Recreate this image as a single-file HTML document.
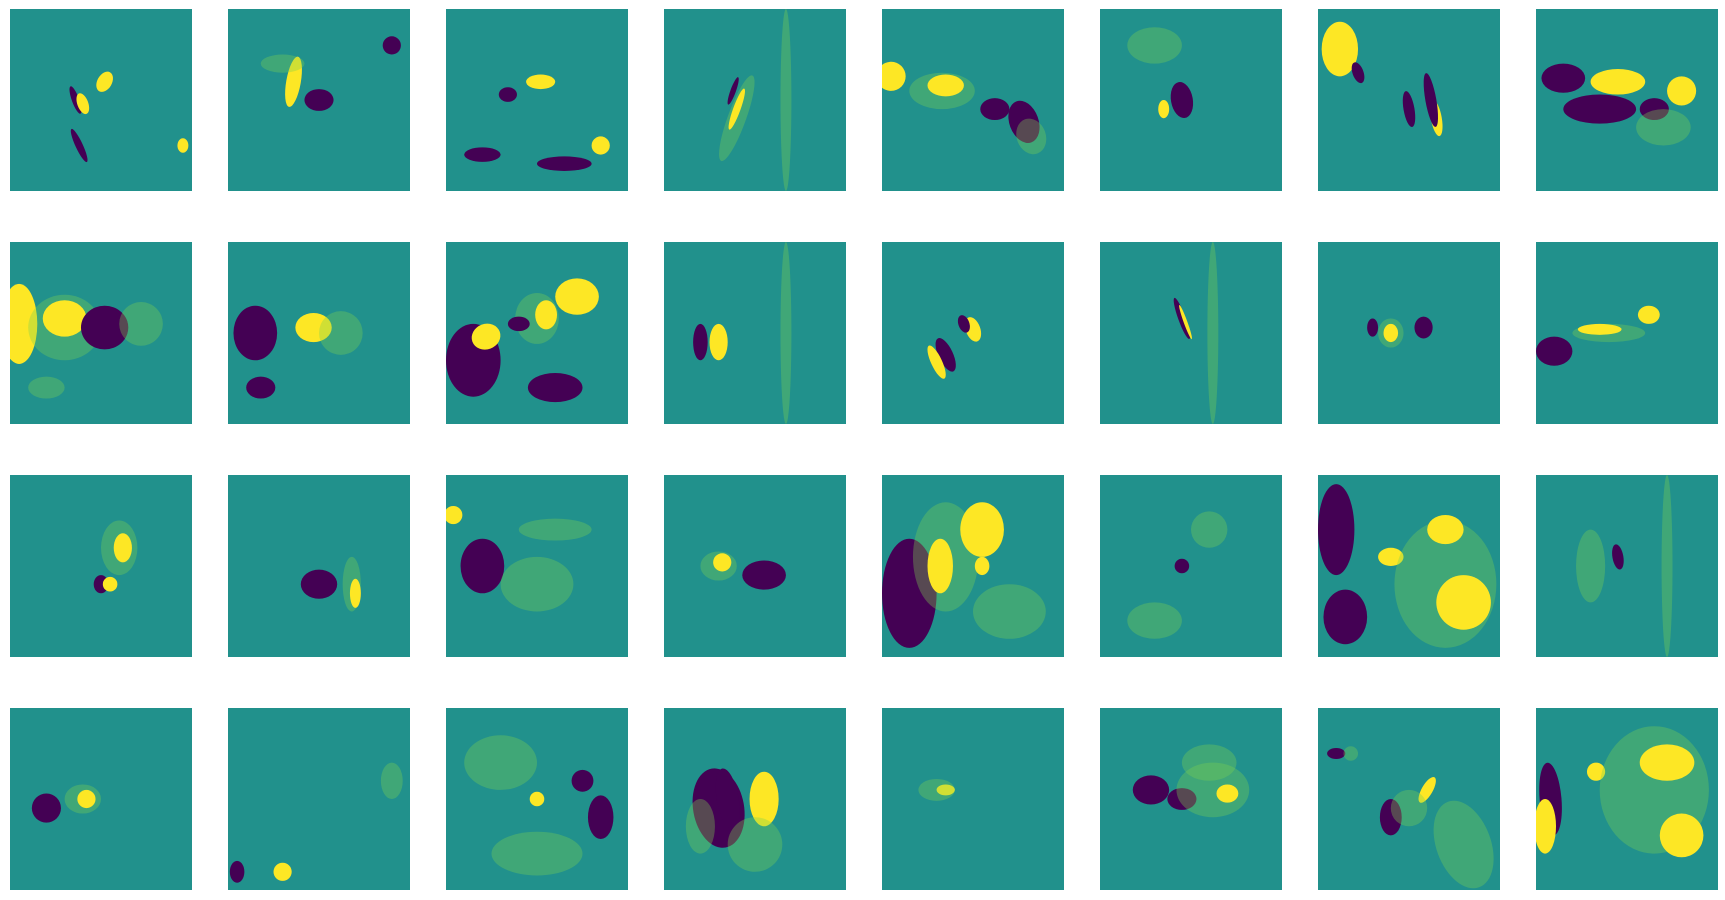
<!DOCTYPE html>
<html><head><meta charset="utf-8"><style>
html,body{margin:0;padding:0;background:#fff;width:1725px;height:900px;overflow:hidden;font-family:"Liberation Sans",sans-serif}
</style></head><body>
<svg id="fig" width="1725" height="900" xmlns="http://www.w3.org/2000/svg"></svg>
<script>
// panel blobs: [cx, cy, rx, ry, color-code, rotation] in panel fractions; Y=yellow, P=purple, G=green speckle
const panelBlobs = [
 [[0.52,0.4,0.04,0.06,'Y',30],[0.36,0.5,0.02,0.08,'P',-20],[0.4,0.52,0.03,0.06,'Y',-20],[0.38,0.75,0.02,0.1,'P',-25],[0.95,0.75,0.03,0.04,'Y',0]],
 [[0.36,0.4,0.04,0.14,'Y',10],[0.5,0.5,0.08,0.06,'P',0],[0.3,0.3,0.12,0.05,'G',0],[0.9,0.2,0.05,0.05,'P',0]],
 [[0.34,0.47,0.05,0.04,'P',0],[0.52,0.4,0.08,0.04,'Y',0],[0.65,0.85,0.15,0.04,'P',0],[0.2,0.8,0.1,0.04,'P',0],[0.85,0.75,0.05,0.05,'Y',0]],
 [[0.4,0.6,0.05,0.25,'G',20],[0.4,0.55,0.02,0.12,'Y',20],[0.38,0.45,0.015,0.08,'P',20],[0.67,0.5,0.03,0.5,'G',0]],
 [[0.05,0.37,0.08,0.08,'Y',0],[0.33,0.45,0.18,0.1,'G',0],[0.35,0.42,0.1,0.06,'Y',0],[0.78,0.62,0.08,0.12,'P',-20],[0.82,0.7,0.08,0.1,'G',-20],[0.62,0.55,0.08,0.06,'P',0]],
 [[0.45,0.5,0.06,0.1,'P',-10],[0.3,0.2,0.15,0.1,'G',0],[0.35,0.55,0.03,0.05,'Y',0]],
 [[0.12,0.22,0.1,0.15,'Y',0],[0.22,0.35,0.03,0.06,'P',-20],[0.5,0.55,0.03,0.1,'P',-10],[0.65,0.6,0.03,0.1,'Y',-10],[0.62,0.5,0.03,0.15,'P',-10]],
 [[0.15,0.38,0.12,0.08,'P',0],[0.45,0.4,0.15,0.07,'Y',0],[0.8,0.45,0.08,0.08,'Y',0],[0.35,0.55,0.2,0.08,'P',0],[0.65,0.55,0.08,0.06,'P',0],[0.7,0.65,0.15,0.1,'G',0]],
 [[0.05,0.45,0.1,0.22,'Y',0],[0.3,0.47,0.2,0.18,'G',0],[0.3,0.42,0.12,0.1,'Y',0],[0.52,0.47,0.13,0.12,'P',0],[0.72,0.45,0.12,0.12,'G',0],[0.2,0.8,0.1,0.06,'G',0]],
 [[0.15,0.5,0.12,0.15,'P',0],[0.47,0.47,0.1,0.08,'Y',0],[0.62,0.5,0.12,0.12,'G',0],[0.18,0.8,0.08,0.06,'P',0]],
 [[0.15,0.65,0.15,0.2,'P',0],[0.22,0.52,0.08,0.07,'Y',-20],[0.5,0.42,0.12,0.14,'G',0],[0.55,0.4,0.06,0.08,'Y',0],[0.72,0.3,0.12,0.1,'Y',0],[0.4,0.45,0.06,0.04,'P',0],[0.6,0.8,0.15,0.08,'P',0]],
 [[0.2,0.55,0.04,0.1,'P',0],[0.3,0.55,0.05,0.1,'Y',0],[0.67,0.5,0.03,0.5,'G',0]],
 [[0.35,0.62,0.04,0.1,'P',-25],[0.3,0.66,0.03,0.1,'Y',-25],[0.5,0.48,0.04,0.07,'Y',-20],[0.45,0.45,0.03,0.05,'P',-20]],
 [[0.45,0.42,0.02,0.12,'P',-20],[0.47,0.44,0.01,0.1,'Y',-20],[0.62,0.5,0.03,0.5,'G',0]],
 [[0.3,0.47,0.03,0.05,'P',0],[0.4,0.5,0.07,0.08,'G',0],[0.4,0.5,0.04,0.05,'Y',0],[0.58,0.47,0.05,0.06,'P',0]],
 [[0.1,0.6,0.1,0.08,'P',0],[0.4,0.5,0.2,0.05,'G',0],[0.35,0.48,0.12,0.03,'Y',0],[0.62,0.4,0.06,0.05,'Y',0]],
 [[0.6,0.4,0.1,0.15,'G',0],[0.62,0.4,0.05,0.08,'Y',0],[0.5,0.6,0.04,0.05,'P',0],[0.55,0.6,0.04,0.04,'Y',0]],
 [[0.5,0.6,0.1,0.08,'P',0],[0.68,0.6,0.05,0.15,'G',0],[0.7,0.65,0.03,0.08,'Y',0]],
 [[0.04,0.22,0.05,0.05,'Y',0],[0.2,0.5,0.12,0.15,'P',0],[0.5,0.6,0.2,0.15,'G',0],[0.6,0.3,0.2,0.06,'G',0]],
 [[0.3,0.5,0.1,0.08,'G',0],[0.32,0.48,0.05,0.05,'Y',0],[0.55,0.55,0.12,0.08,'P',0]],
 [[0.15,0.65,0.15,0.3,'P',0],[0.35,0.45,0.18,0.3,'G',0],[0.32,0.5,0.07,0.15,'Y',0],[0.55,0.3,0.12,0.15,'Y',0],[0.55,0.5,0.04,0.05,'Y',0],[0.7,0.75,0.2,0.15,'G',0]],
 [[0.45,0.5,0.04,0.04,'P',0],[0.3,0.8,0.15,0.1,'G',0],[0.6,0.3,0.1,0.1,'G',0]],
 [[0.1,0.3,0.1,0.25,'P',0],[0.4,0.45,0.07,0.05,'Y',0],[0.7,0.6,0.28,0.35,'G',0],[0.8,0.7,0.15,0.15,'Y',0],[0.7,0.3,0.1,0.08,'Y',0],[0.15,0.78,0.12,0.15,'P',0]],
 [[0.45,0.45,0.03,0.07,'P',-10],[0.3,0.5,0.08,0.2,'G',0],[0.72,0.5,0.03,0.5,'G',0]],
 [[0.2,0.55,0.08,0.08,'P',0],[0.4,0.5,0.1,0.08,'G',0],[0.42,0.5,0.05,0.05,'Y',0]],
 [[0.3,0.9,0.05,0.05,'Y',0],[0.05,0.9,0.04,0.06,'P',0],[0.9,0.4,0.06,0.1,'G',0]],
 [[0.5,0.5,0.04,0.04,'Y',0],[0.3,0.3,0.2,0.15,'G',0],[0.5,0.8,0.25,0.12,'G',0],[0.75,0.4,0.06,0.06,'P',0],[0.85,0.6,0.07,0.12,'P',0]],
 [[0.3,0.55,0.14,0.22,'P',-10],[0.35,0.5,0.06,0.17,'P',-10],[0.55,0.5,0.08,0.15,'Y',0],[0.5,0.75,0.15,0.15,'G',0],[0.2,0.65,0.08,0.15,'G',0]],
 [[0.35,0.45,0.05,0.03,'Y',0],[0.3,0.45,0.1,0.06,'G',0]],
 [[0.28,0.45,0.1,0.08,'P',0],[0.45,0.5,0.08,0.06,'P',0],[0.62,0.45,0.2,0.15,'G',0],[0.7,0.47,0.06,0.05,'Y',0],[0.6,0.3,0.15,0.1,'G',0]],
 [[0.1,0.25,0.05,0.03,'P',0],[0.18,0.25,0.04,0.04,'G',0],[0.6,0.45,0.03,0.08,'Y',30],[0.4,0.6,0.06,0.1,'P',0],[0.5,0.55,0.1,0.1,'G',0],[0.8,0.75,0.15,0.25,'G',-20]],
 [[0.08,0.5,0.06,0.2,'P',-5],[0.33,0.35,0.05,0.05,'Y',0],[0.65,0.45,0.3,0.35,'G',0],[0.72,0.3,0.15,0.1,'Y',0],[0.8,0.7,0.12,0.12,'Y',0],[0.05,0.65,0.06,0.15,'Y',0]]
];
const colors={Y:'#fde725',P:'#440154',G:'#7ad151'};
const svg=document.getElementById('fig');
const NS='http://www.w3.org/2000/svg';
const W=182, X0=10, DX=218, Y0=9, DY=233;
panelBlobs.forEach((blobs,i)=>{
  const c=i%8, r=Math.floor(i/8);
  const g=document.createElementNS(NS,'g');
  
  
  const x=X0+c*DX, y=Y0+r*DY;
  const cp=document.createElementNS(NS,'clipPath');cp.setAttribute('id','cp'+i);
  const cr=document.createElementNS(NS,'rect');cr.setAttribute('x',x);cr.setAttribute('y',y);cr.setAttribute('width',W);cr.setAttribute('height',W);
  cp.appendChild(cr);svg.appendChild(cp);
  const bg=document.createElementNS(NS,'rect');
  bg.setAttribute('x',x);bg.setAttribute('y',y);bg.setAttribute('width',W);bg.setAttribute('height',W);bg.setAttribute('fill','#21918c');
  g.appendChild(bg);
  const inner=document.createElementNS(NS,'g');inner.setAttribute('clip-path','url(#cp'+i+')');
  blobs.forEach(b=>{
    const e=document.createElementNS(NS,'ellipse');
    
    
    const cx=x+b[0]*W, cy=y+b[1]*W;
    e.setAttribute('cx',cx);e.setAttribute('cy',cy);
    e.setAttribute('rx',b[2]*W);e.setAttribute('ry',b[3]*W);
    e.setAttribute('fill',colors[b[4]]);
    if(b[4]==='G')e.setAttribute('opacity','0.35');
    if(b[5])e.setAttribute('transform','rotate('+b[5]+' '+cx+' '+cy+')');
    inner.appendChild(e);
  });
  g.appendChild(inner);
  svg.appendChild(g);
});
</script>
</body></html>
